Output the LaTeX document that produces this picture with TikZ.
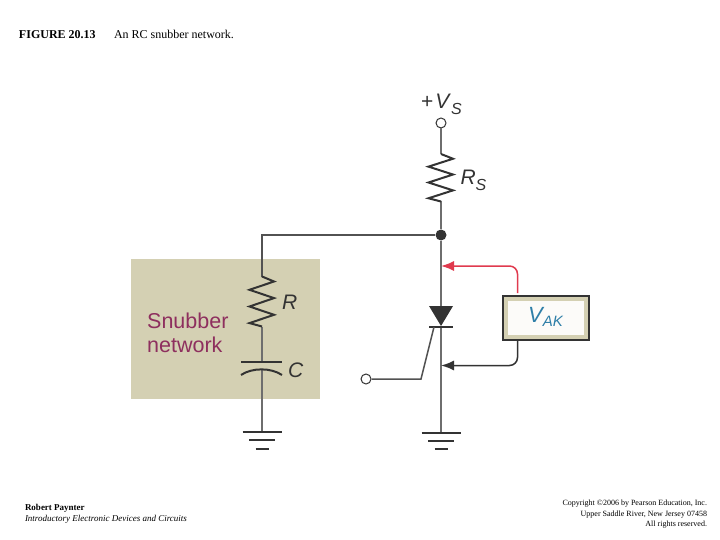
\documentclass[tikz,border=0pt]{standalone}
\usepackage{fontspec}
\setmainfont{Liberation Serif}
\newfontfamily\figsans{Liberation Sans}
\usetikzlibrary{arrows.meta}
\definecolor{snubtan}{HTML}{D4D0B3}
\definecolor{snubred}{HTML}{8E2F5E}
\definecolor{wiregray}{HTML}{6E6E6E}
\definecolor{symdark}{HTML}{333333}
\definecolor{probered}{HTML}{E03A4E}
\definecolor{vakblue}{HTML}{2F7FA8}
\newcommand{\figfont}[1]{\fontsize{#1}{#1}\selectfont}
\tikzset{
  wire/.style={draw=wiregray, line width=1.5pt},
  darkwire/.style={draw=symdark!85!white, line width=1.5pt},
  sym/.style={draw=symdark, line width=2pt, line join=miter},
  term/.style={circle, draw=symdark, fill=white, line width=1pt, minimum size=10pt, inner sep=0pt},
  dot/.style={circle, fill=symdark, minimum size=11pt, inner sep=0pt},
  lab/.style={anchor=base west, inner sep=0pt, outer sep=0pt, font=\figsans\itshape\figfont{21}, text=symdark},
  captxt/.style={anchor=base west, inner sep=0pt, outer sep=0pt, align=left},
  capr/.style={anchor=base east, inner sep=0pt, outer sep=0pt},
  probe/.style={rounded corners=8pt, line width=1.5pt, -{Latex[length=13pt,width=10pt]}},
  pics/ground/.style={code={
    \draw[sym] (-19.5,0) -- (19.5,0);
    \draw[sym] (-13,8) -- (13,8);
    \draw[sym] (-6.5,16.5) -- (6.5,16.5);
  }},
  pics/zigzag/.style={code={
    \draw[sym] (0,0) -- (12,#1*5) -- (-12.5,#1*13.3) -- (12,#1*21.6) -- (-12.5,#1*30)
      -- (12,#1*38.3) -- (-12.5,#1*46.6) -- (0,#1*50);
  }}
}
\begin{document}
\begin{tikzpicture}[x=1pt,y=-1pt]
\useasboundingbox (0,0) rectangle (720,540);

% snubber panel
\node[fill=snubtan, minimum width=188.5pt, minimum height=140pt, inner sep=0pt, anchor=north west] (panel) at (131,259) {};
\node[anchor=base west, inner sep=0pt, text=snubred, font=\figsans\figfont{21.5}] (snubA) at (147,328) {Snubber};
\node[anchor=base west, inner sep=0pt, text=snubred, font=\figsans\figfont{21.5}] (snubB) at (147,352.5) {network};

% main rail points
\node[term] (vs) at (441,123) {};
\coordinate (rsTop) at (441,154);
\coordinate (rsBot) at (441,201.5);
\node[dot] (jn) at (441,235) {};
\coordinate (scrA) at (441,306);
\coordinate (scrK) at (441,326);
\coordinate (gndA) at (441,432.5);
\coordinate (corner) at (262,235);
\coordinate (rTop) at (262,276.5);
\coordinate (rBot) at (262,326.5);
\coordinate (capTop) at (262,361.5);
\coordinate (capBot) at (262,369);
\coordinate (gndB) at (262,432);

% wires
\draw[wire] (vs) -- (rsTop);
\draw[wire] (rsBot) -- (jn);
\draw[wire] (jn) -- (scrA);
\draw[wire] (scrK) -- (gndA);
\draw[darkwire] (jn) -- (corner) -- (rTop);
\draw[wire] (rBot) -- (capTop);
\draw[wire] (capBot) -- (gndB);

% resistors
\pic at (rsTop) {zigzag=0.95};
\pic at (rTop) {zigzag=1};

% capacitor
\coordinate (capL) at (241,375);
\coordinate (capR) at (282,375);
\draw[sym] (241,361.5) -- (282,361.5);
\draw[sym] (capL) .. controls (252,367.5) and (271,367.5) .. (capR);

% grounds
\pic at (gndA) {ground};
\pic at (gndB) {ground};

% SCR
\fill[symdark] (429,306) -- (453,306) -- (scrK) -- cycle;
\draw[sym] (429,326.5) -- (453,326.5);
\node[term] (gate) at (366,379) {};
\coordinate (gateKnee) at (421,379);
\coordinate (gateTop) at (434,327);
\draw[darkwire] (gate) -- (gateKnee) -- (gateTop);

% voltmeter box
\node[fill=snubtan, draw=symdark, line width=2.4pt, minimum width=86pt, minimum height=44pt, inner sep=0pt, anchor=north west] (meter) at (502,294.5) {};
\node[fill=white!92!snubtan, minimum width=76pt, minimum height=34pt, inner sep=0pt] (meterIn) at (meter.center) {};
\node[anchor=base west, inner sep=0pt, text=vakblue, font=\figsans\itshape\figfont{22}] (vak) at (528,322.5) {V\raisebox{-4pt}{\figfont{15}AK}};

% probes
\coordinate (probeA) at (517.5,293);
\coordinate (probeB) at (517.5,340);
\coordinate (tipA) at (441,266);
\coordinate (tipB) at (441,365.5);
\draw[probe, draw=probered] (probeA) |- (tipA);
\draw[probe, draw=symdark] (probeB) |- (tipB);

% labels
\node[anchor=base west, inner sep=0pt, font=\figsans\figfont{21}, text=symdark] (vslab) at (421,109) {+\hspace{2pt}\textit{V}\raisebox{-6pt}{\itshape\figfont{16}S}};
\node[lab] (rslab) at (460.5,185) {R\raisebox{-6pt}{\figfont{16}S}};
\node[lab] (rlab) at (282,309) {R};
\node[lab] (clab) at (288,377) {C};

% caption text
\node[captxt, font=\bfseries\figfont{12}] (fig) at (19,39) {FIGURE 20.13};
\node[captxt, font=\figfont{12}] (title) at (114,39) {An RC snubber network.};
\node[captxt, font=\bfseries\figfont{9}] (auth) at (25,510.5) {Robert Paynter};
\node[captxt, font=\itshape\figfont{9}] (book) at (25,521.5) {Introductory Electronic Devices and Circuits};
\node[capr, font=\figfont{8}] (c1) at (707,505.5) {Copyright ©2006 by Pearson Education, Inc.};
\node[capr, font=\figfont{8}] (c2) at (707,516) {Upper Saddle River, New Jersey 07458};
\node[capr, font=\figfont{8}] (c3) at (707,526) {All rights reserved.};
\end{tikzpicture}
\end{document}
